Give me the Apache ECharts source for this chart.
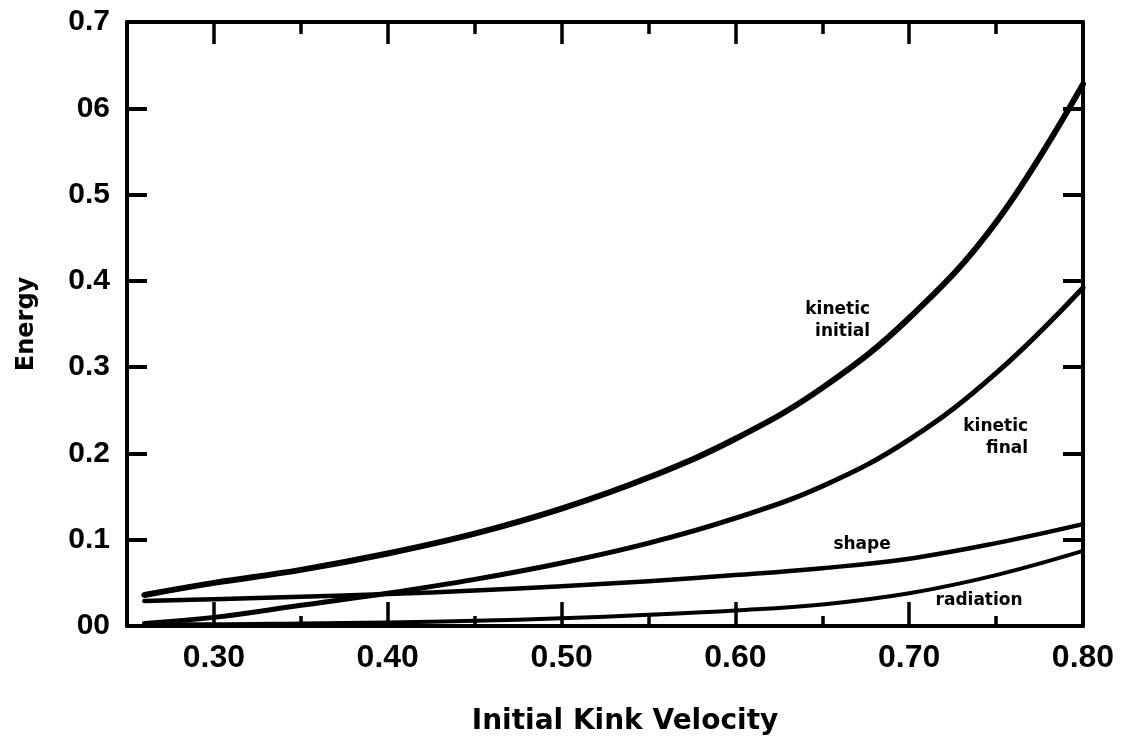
<!DOCTYPE html>
<html>
<head>
<meta charset="utf-8">
<script src="https://cdn.jsdelivr.net/npm/echarts@6/dist/echarts.min.js"></script>
<style>
  html, body { margin: 0; padding: 0; background: #fff; }
  #chart { width: 1147px; height: 749px; }
</style>
</head>
<body>
<div id="chart"></div>
<script>
// Initial kink velocity (x) at which each energy component was sampled
const velocity = [0.26, 0.30, 0.35, 0.40, 0.45, 0.50, 0.55, 0.60, 0.65, 0.70, 0.75, 0.80];

// Energy components
const kineticInitial = [0.036, 0.050, 0.065, 0.084, 0.107, 0.136, 0.172, 0.217, 0.276, 0.357, 0.468, 0.628];
const kineticFinal   = [0.003, 0.010, 0.024, 0.038, 0.054, 0.073, 0.096, 0.125, 0.162, 0.216, 0.293, 0.392];
const shapeEnergy    = [0.029, 0.031, 0.034, 0.037, 0.041, 0.046, 0.052, 0.059, 0.067, 0.078, 0.096, 0.118];
const radiation      = [0.002, 0.002, 0.003, 0.004, 0.006, 0.009, 0.013, 0.018, 0.025, 0.038, 0.059, 0.087];

// Axis ticks and their printed labels
const xMajorTicks = [0.30, 0.40, 0.50, 0.60, 0.70, 0.80];
const xMinorTicks = [0.35, 0.45, 0.55, 0.65, 0.75];
const xTickLabels = ['0.30', '0.40', '0.50', '0.60', '0.70', '0.80'];
const yTickLabels = ['00', '0.1', '0.2', '0.3', '0.4', '0.5', '06', '0.7'];

// Curve annotations, anchored in data space
const noteText = ['kinetic\ninitial', 'kinetic\nfinal', 'shape', 'radiation'];
const noteAt = [[0.6775, 0.354], [0.7684, 0.218], [0.6729, 0.094], [0.7402, 0.030]];
const noteAlign = ['right', 'right', 'center', 'center'];

const INK = '#000';
const NUM_FONT = 'Liberation Sans';
const TEXT_FONT = 'DejaVu Sans';

function pairs(ys) { return velocity.map((v, i) => [v, ys[i]]); }

function curve(name, ys, width) {
  return {
    name: name,
    type: 'line',
    data: pairs(ys),
    smooth: 0.4,
    showSymbol: false,
    silent: true,
    lineStyle: { color: INK, width: width, cap: 'round', join: 'round' },
    z: 3
  };
}

function xAxisBase(position, ticks, tickLen, showLine) {
  return {
    type: 'value',
    position: position,
    min: 0.25,
    max: 0.80,
    axisLine: { show: showLine, onZero: false, lineStyle: { color: INK, width: 4 } },
    axisTick: {
      show: true, inside: true, length: tickLen, customValues: ticks,
      lineStyle: { color: INK, width: 3.5 }
    },
    axisLabel: { show: false },
    splitLine: { show: false }
  };
}

const chart = echarts.init(document.getElementById('chart'), null, { renderer: 'canvas' });

const bottomMain = xAxisBase('bottom', xMajorTicks, 24, true);
bottomMain.axisLabel = {
  show: true,
  customValues: xMajorTicks,
  margin: 16,
  color: INK,
  fontFamily: NUM_FONT,
  fontWeight: 'bold',
  fontSize: 32,
  formatter: function (v) {
    const i = xMajorTicks.findIndex(t => Math.abs(t - v) < 1e-6);
    return i >= 0 ? xTickLabels[i] : '';
  }
};
bottomMain.name = 'Initial Kink Velocity';
bottomMain.nameLocation = 'middle';
bottomMain.nameGap = 82;
bottomMain.nameTextStyle = {
  color: INK, fontFamily: TEXT_FONT, fontWeight: 'bold', fontSize: 28,
  padding: [0, 0, 0, 40]
};

const option = {
  backgroundColor: '#fff',
  animation: false,
  grid: { left: 127, right: 64, top: 22, bottom: 123, containLabel: false, outerBoundsMode: 'none' },
  xAxis: [
    bottomMain,
    xAxisBase('bottom', xMinorTicks, 10, false),
    xAxisBase('top', xMajorTicks, 22, true),
    xAxisBase('top', xMinorTicks, 12, false)
  ],
  yAxis: [
    {
      type: 'value',
      position: 'left',
      min: 0,
      max: 0.7,
      interval: 0.1,
      axisLine: { show: true, onZero: false, lineStyle: { color: INK, width: 4 } },
      axisTick: { show: true, inside: true, length: 20, lineStyle: { color: INK, width: 4 } },
      axisLabel: {
        margin: 17,
        color: INK,
        fontFamily: NUM_FONT,
        fontWeight: 'bold',
        fontSize: 30,
        formatter: function (v) { return yTickLabels[Math.round(v * 10)]; }
      },
      splitLine: { show: false },
      name: 'Energy',
      nameLocation: 'middle',
      nameRotate: 90,
      nameGap: 88,
      nameTextStyle: { color: INK, fontFamily: TEXT_FONT, fontWeight: 'bold', fontSize: 24 }
    },
    {
      type: 'value',
      position: 'right',
      min: 0,
      max: 0.7,
      interval: 0.1,
      axisLine: { show: true, onZero: false, lineStyle: { color: INK, width: 4 } },
      axisTick: { show: true, inside: true, length: 20, lineStyle: { color: INK, width: 4 } },
      axisLabel: { show: false },
      splitLine: { show: false }
    }
  ],
  series: [
    curve('kinetic initial', kineticInitial, 6),
    curve('kinetic final', kineticFinal, 5),
    curve('shape', shapeEnergy, 4.5),
    curve('radiation', radiation, 4)
  ]
};

chart.setOption(option);

// Place the curve annotations from their data-space anchors
const notes = noteText.map((txt, i) => {
  const p = chart.convertToPixel({ xAxisIndex: 0, yAxisIndex: 0 }, noteAt[i]);
  return {
    type: 'text',
    x: p[0],
    y: p[1],
    z: 10,
    style: {
      text: txt,
      fill: INK,
      font: 'bold 17px "' + TEXT_FONT + '"',
      lineHeight: 22,
      align: noteAlign[i],
      verticalAlign: 'middle'
    }
  };
});
chart.setOption({ graphic: notes });
</script>
</body>
</html>
